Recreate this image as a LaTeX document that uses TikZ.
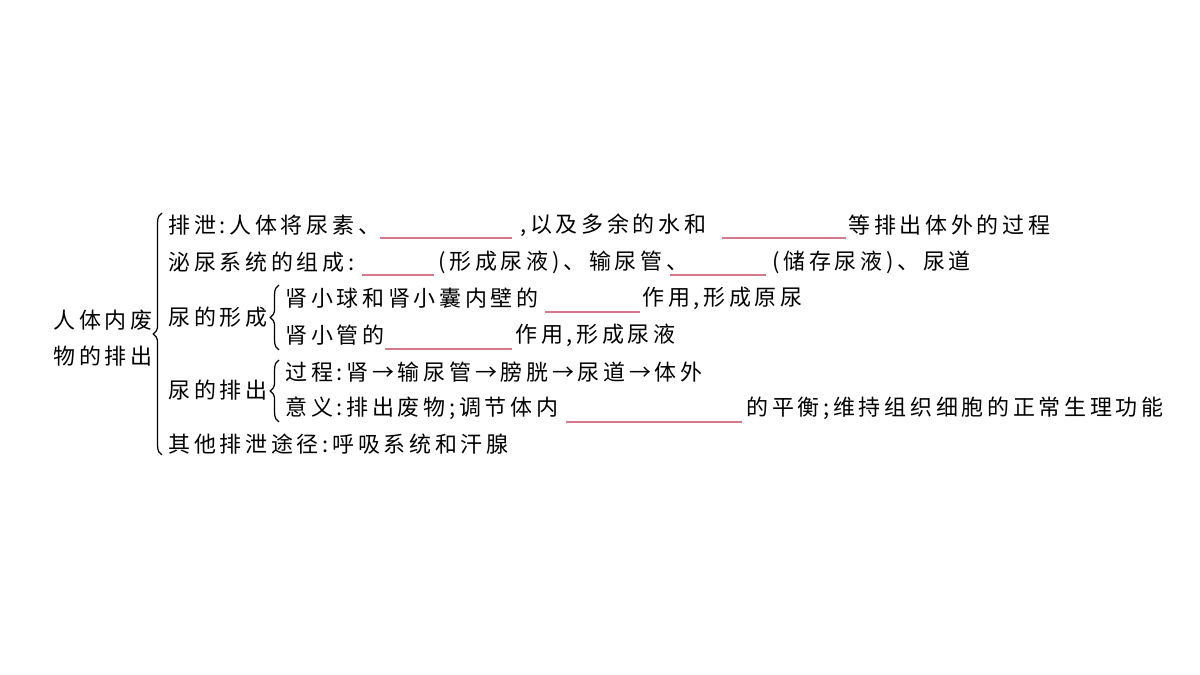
\documentclass[tikz,border=0pt]{standalone}
\usepackage{fontspec}
\setmainfont{Noto Sans CJK SC}[LetterSpace=17]
\usetikzlibrary{decorations.pathreplacing}
\definecolor{blank}{RGB}{214,120,140}
\tikzset{t/.style={anchor=west,inner sep=0pt,font=\fontsize{12.5}{14}\selectfont},
 bl/.style={draw=blank,line width=0.6pt},
 br/.style={decorate,decoration={brace,amplitude=5pt},line width=0.7pt}}
\begin{document}
\begin{tikzpicture}[x=0.02cm,y=-0.02cm]
\useasboundingbox[fill=white] (0,0) rectangle (1200,675);
\node[t] (m1) at (53,320) {人体内废};
\node[t] (m2) at (53,356) {物的排出};
\draw[br] (162,455) -- (162,213);
% row 1
\node[t] (a1) at (168,225) {排泄:人体将尿素、};
\draw[bl] (380,238) -- (512,238);
\node[t] (a2) at (520,225) {,以及多余的水和};
\draw[bl] (722,238) -- (846,238);
\node[t] (a3) at (848,225) {等排出体外的过程};
% row 2
\node[t] (b1) at (168,262) {泌尿系统的组成:};
\draw[bl] (362,275) -- (434,275);
\node[t] (b2) at (438,262) {(形成尿液)、输尿管、};
\draw[bl] (670,275) -- (766,275);
\node[t] (b3) at (772,262) {(储存尿液)、尿道};
% row 3/4
\node[t] (c0) at (168,317) {尿的形成};
\draw[br] (279,350) -- (279,285);
\node[t] (c1) at (285,298) {肾小球和肾小囊内壁的};
\draw[bl] (545,312) -- (640,312);
\node[t] (c2) at (642,298) {作用,形成原尿};
\node[t] (d1) at (285,335) {肾小管的};
\draw[bl] (385,349) -- (512,349);
\node[t] (d2) at (515,335) {作用,形成尿液};
% row 5/6
\node[t] (e0) at (168,390) {尿的排出};
\draw[br] (279,422) -- (279,360);
\node[t] (e1) at (285,372) {过程:肾→输尿管→膀胱→尿道→体外};
\node[t] (f1) at (285,408) {意义:排出废物;调节体内};
\draw[bl] (566,422) -- (742,422);
\node[t] (f2) at (746,408) {的平衡;维持组织细胞的正常生理功能};
% row 7
\node[t] (g1) at (168,444) {其他排泄途径:呼吸系统和汗腺};
\end{tikzpicture}
\end{document}
